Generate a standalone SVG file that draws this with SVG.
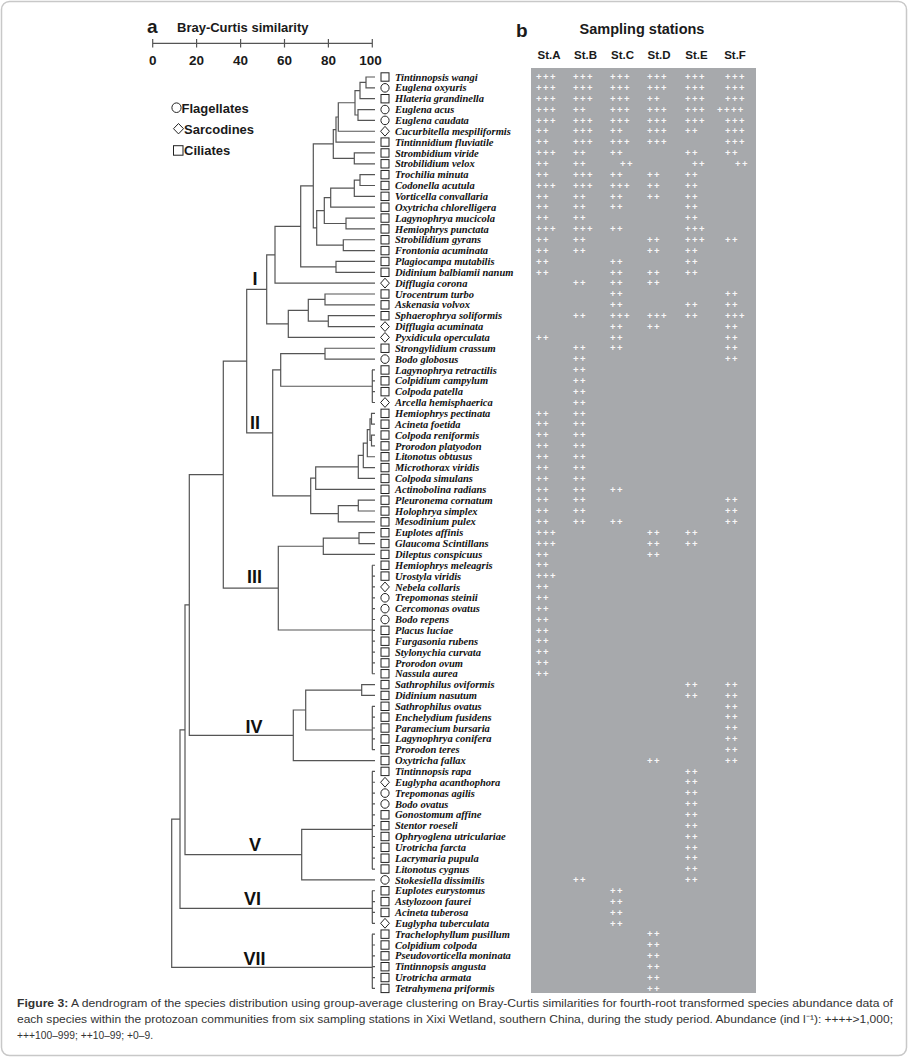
<svg xmlns="http://www.w3.org/2000/svg" xmlns:xlink="http://www.w3.org/1999/xlink" width="909" height="1058" viewBox="0 0 909 1058">
<style>
.hd{font-family:"Liberation Sans",Arial,sans-serif;font-weight:bold;fill:#1a1a1a}
.nm{font-family:"Liberation Serif","Times New Roman",serif;font-weight:bold;font-style:italic;font-size:10.5px;fill:#111}
.p{font-family:"Liberation Sans",Arial,sans-serif;font-weight:bold;font-size:9.5px;letter-spacing:1.4px;fill:#f7f7f7}
.sym{fill:none;stroke:#222;stroke-width:1}
.tr{fill:none;stroke:#555;stroke-width:1.2}
.rn{font-family:"Liberation Sans",Arial,sans-serif;font-weight:bold;font-size:18px;fill:#111;text-anchor:middle}
.cap{font-family:"Liberation Sans",Arial,sans-serif;font-size:11.5px;fill:#333}
</style>
<defs>
<rect id="sq" x="-4" y="-4.2" width="8" height="8.4" class="sym"/>
<ellipse id="ci" rx="4.1" ry="4.3" class="sym"/>
<path id="di" d="M0,-4.9 L4.4,0 L0,4.9 L-4.4,0 Z" class="sym"/>
</defs>
<rect x="1.5" y="1.5" width="905" height="1054" rx="8" fill="#fff" stroke="#c8c8c8" stroke-width="1.5"/>

<g id="axis">
<text class="hd" x="147" y="33" font-size="19">a</text>
<text class="hd" x="177" y="32" font-size="13">Bray-Curtis similarity</text>
<path class="tr" stroke="#333" d="M152.7,43.3 H372.3 M152.7,39 V47.5 M196.6,39 V47.5 M240.6,39 V47.5 M284.5,39 V47.5 M328.4,39 V47.5 M372.3,39 V47.5"/>
<g class="hd" font-size="13.5" text-anchor="middle">
<text x="152.7" y="65">0</text><text x="196.6" y="65">20</text><text x="240.6" y="65">40</text><text x="284.5" y="65">60</text><text x="328.4" y="65">80</text><text x="370.5" y="65">100</text>
</g>
</g>

<g id="legend">
<ellipse cx="176.5" cy="107.7" rx="4.6" ry="4.8" class="sym"/>
<text class="hd" x="181.5" y="112.5" font-size="13">Flagellates</text>
<path d="M178.5,123.5 L183.5,128.7 L178.5,133.9 L173.5,128.7 Z" class="sym"/>
<text class="hd" x="184" y="133.5" font-size="13">Sarcodines</text>
<rect x="173.5" y="145.7" width="9.5" height="9.5" class="sym"/>
<text class="hd" x="184" y="155" font-size="13">Ciliates</text>
</g>

<g id="header-b">
<text class="hd" x="516" y="37" font-size="19">b</text>
<text class="hd" x="642" y="34" font-size="14.5" text-anchor="middle">Sampling stations</text>
<g class="hd" font-size="11.5" text-anchor="middle">
<text x="549" y="59">St.A</text><text x="585.5" y="59">St.B</text><text x="622.5" y="59">St.C</text><text x="659" y="59">St.D</text><text x="696.5" y="59">St.E</text><text x="735" y="59">St.F</text>
</g>
</g>

<g id="connectors">
<path class="tr" d="
M375,77 H366 V87.85 H375
M366,82.43 H360 V98.7 H375
M375,109.55 H358 V120.4 H375
M360,90.56 H355 V114.98 H358
M355,102.77 H338.3 V131.25 H375
M338.3,117.01 H336 V142.1 H375
M375,152.95 H354.3 V163.8 H375
M336,129.56 H333.3 V158.38 H354.3
M375,174.65 H360 V185.5 H375
M360,180.08 H354.3 V196.35 H375
M354.3,188.21 H330.7 V207.2 H375
M375,218.05 H346 V228.9 H375
M330.7,197.71 H324.3 V223.48 H346
M375,239.75 H343.3 V250.6 H375
M324.3,210.6 H316.7 V245.18 H343.3
M333.3,143.97 H313.3 V227.89 H316.7
M375,261.45 H336 V272.3 H375
M313.3,185.93 H300.7 V266.88 H336
M300.7,226.4 H275 V283.15 H375
M375,294 H325 V304.85 H375
M375,315.7 H328.3 V326.55 H375
M325,299.43 H308.3 V321.13 H328.3
M308.3,310.28 H288.3 V337.4 H375
M275,254.78 H266.7 V323.84 H288.3
M375,348.25 H325 V359.1 H375
M372.3,369.95 V402.5
M325,353.68 H280.7 V386.23 H372.3
M375,413.35 H371.5 V424.2 H375
M375,435.05 H371.5 V445.9 H375
M371.5,418.78 H370 V440.48 H371.5
M370,429.63 H367.3 V456.75 H375
M367.3,443.19 H363.3 V467.6 H375
M363.3,455.4 H358.3 V478.45 H375
M358.3,466.92 H315.7 V489.3 H375
M375,500.15 H358.3 V511 H375
M358.3,505.58 H338.3 V521.85 H375
M315.7,478.11 H310.7 V513.71 H338.3
M280.7,369.96 H272.7 V495.91 H310.7
M266.7,289.31 H246.7 V432.93 H272.7
M375,532.7 H359 V543.55 H375
M359,538.13 H323.3 V554.4 H375
M372.3,565.25 V673.75
M323.3,546.26 H278.3 V630 H372.3
M246.7,361.12 H223.3 V588.13 H278.3
M375,684.6 H361.7 V695.45 H375
M372.3,706.3 V749.7
M361.7,690.03 H305.7 V730 H372.3
M305.7,710.02 H293.3 V760.55 H375
M223.3,474.62 H189.3 V735.29 H293.3
M372.3,771.4 V869.05
M372.3,829.3 H301.7 V879.9 H375
M189.3,604.96 H185 V854.6 H301.7
M372.3,890.75 V923.3
M185,729.78 H180 V908.3 H372.3
M372.3,934.15 V988.4
M180,819.04 H171.7 V967.3 H372.3
"/>
<path class="tr" d="M372,369.95h3 M372,380.8h3 M372,391.65h3 M372,402.5h3
M372,565.25h3 M372,576.1h3 M372,586.95h3 M372,597.8h3 M372,608.65h3 M372,619.5h3 M372,630.35h3 M372,641.2h3 M372,652.05h3 M372,662.9h3 M372,673.75h3
M372,706.3h3 M372,717.15h3 M372,728h3 M372,738.85h3 M372,749.7h3
M372,771.4h3 M372,782.25h3 M372,793.1h3 M372,803.95h3 M372,814.8h3 M372,825.65h3 M372,836.5h3 M372,847.35h3 M372,858.2h3 M372,869.05h3
M372,890.75h3 M372,901.6h3 M372,912.45h3 M372,923.3h3
M372,934.15h3 M372,945h3 M372,955.85h3 M372,966.7h3 M372,977.55h3 M372,988.4h3"/>
</g>

<g id="cluster-labels">
<text class="rn" x="255" y="285">I</text>
<text class="rn" x="255" y="429">II</text>
<text class="rn" x="254.5" y="583">III</text>
<text class="rn" x="254" y="733">IV</text>
<text class="rn" x="255" y="851">V</text>
<text class="rn" x="252.5" y="905">VI</text>
<text class="rn" x="254.5" y="965">VII</text>
</g>

<g id="species">
<g id="sp1"><use href="#sq" x="385" y="77"/><text class="nm" x="395" y="80.6">Tintinnopsis wangi</text></g>
<g id="sp2"><use href="#ci" x="385" y="87.85"/><text class="nm" x="395" y="91.45">Euglena oxyuris</text></g>
<g id="sp3"><use href="#sq" x="385" y="98.7"/><text class="nm" x="395" y="102.3">Hlateria grandinella</text></g>
<g id="sp4"><use href="#ci" x="385" y="109.55"/><text class="nm" x="395" y="113.15">Euglena acus</text></g>
<g id="sp5"><use href="#ci" x="385" y="120.4"/><text class="nm" x="395" y="124">Euglena caudata</text></g>
<g id="sp6"><use href="#di" x="385" y="131.25"/><text class="nm" x="395" y="134.85">Cucurbitella mespiliformis</text></g>
<g id="sp7"><use href="#sq" x="385" y="142.1"/><text class="nm" x="395" y="145.7">Tintinnidium fluviatile</text></g>
<g id="sp8"><use href="#sq" x="385" y="152.95"/><text class="nm" x="395" y="156.55">Strombidium viride</text></g>
<g id="sp9"><use href="#sq" x="385" y="163.8"/><text class="nm" x="395" y="167.4">Strobilidium velox</text></g>
<g id="sp10"><use href="#sq" x="385" y="174.65"/><text class="nm" x="395" y="178.25">Trochilia minuta</text></g>
<g id="sp11"><use href="#sq" x="385" y="185.5"/><text class="nm" x="395" y="189.1">Codonella acutula</text></g>
<g id="sp12"><use href="#sq" x="385" y="196.35"/><text class="nm" x="395" y="199.95">Vorticella convallaria</text></g>
<g id="sp13"><use href="#sq" x="385" y="207.2"/><text class="nm" x="395" y="210.8">Oxytricha chlorelligera</text></g>
<g id="sp14"><use href="#sq" x="385" y="218.05"/><text class="nm" x="395" y="221.65">Lagynophrya mucicola</text></g>
<g id="sp15"><use href="#sq" x="385" y="228.9"/><text class="nm" x="395" y="232.5">Hemiophrys punctata</text></g>
<g id="sp16"><use href="#sq" x="385" y="239.75"/><text class="nm" x="395" y="243.35">Strobilidium gyrans</text></g>
<g id="sp17"><use href="#sq" x="385" y="250.6"/><text class="nm" x="395" y="254.2">Frontonia acuminata</text></g>
<g id="sp18"><use href="#sq" x="385" y="261.45"/><text class="nm" x="395" y="265.05">Plagiocampa mutabilis</text></g>
<g id="sp19"><use href="#sq" x="385" y="272.3"/><text class="nm" x="395" y="275.9">Didinium balbiamii nanum</text></g>
<g id="sp20"><use href="#di" x="385" y="283.15"/><text class="nm" x="395" y="286.75">Difflugia corona</text></g>
<g id="sp21"><use href="#sq" x="385" y="294"/><text class="nm" x="395" y="297.6">Urocentrum turbo</text></g>
<g id="sp22"><use href="#sq" x="385" y="304.85"/><text class="nm" x="395" y="308.45">Askenasia volvox</text></g>
<g id="sp23"><use href="#sq" x="385" y="315.7"/><text class="nm" x="395" y="319.3">Sphaerophrya soliformis</text></g>
<g id="sp24"><use href="#di" x="385" y="326.55"/><text class="nm" x="395" y="330.15">Difflugia acuminata</text></g>
<g id="sp25"><use href="#di" x="385" y="337.4"/><text class="nm" x="395" y="341">Pyxidicula operculata</text></g>
<g id="sp26"><use href="#sq" x="385" y="348.25"/><text class="nm" x="395" y="351.85">Strongylidium crassum</text></g>
<g id="sp27"><use href="#ci" x="385" y="359.1"/><text class="nm" x="395" y="362.7">Bodo globosus</text></g>
<g id="sp28"><use href="#sq" x="385" y="369.95"/><text class="nm" x="395" y="373.55">Lagynophrya retractilis</text></g>
<g id="sp29"><use href="#sq" x="385" y="380.8"/><text class="nm" x="395" y="384.4">Colpidium campylum</text></g>
<g id="sp30"><use href="#sq" x="385" y="391.65"/><text class="nm" x="395" y="395.25">Colpoda patella</text></g>
<g id="sp31"><use href="#di" x="385" y="402.5"/><text class="nm" x="395" y="406.1">Arcella hemisphaerica</text></g>
<g id="sp32"><use href="#sq" x="385" y="413.35"/><text class="nm" x="395" y="416.95">Hemiophrys pectinata</text></g>
<g id="sp33"><use href="#sq" x="385" y="424.2"/><text class="nm" x="395" y="427.8">Acineta foetida</text></g>
<g id="sp34"><use href="#sq" x="385" y="435.05"/><text class="nm" x="395" y="438.65">Colpoda reniformis</text></g>
<g id="sp35"><use href="#sq" x="385" y="445.9"/><text class="nm" x="395" y="449.5">Prorodon platyodon</text></g>
<g id="sp36"><use href="#sq" x="385" y="456.75"/><text class="nm" x="395" y="460.35">Litonotus obtusus</text></g>
<g id="sp37"><use href="#sq" x="385" y="467.6"/><text class="nm" x="395" y="471.2">Microthorax viridis</text></g>
<g id="sp38"><use href="#sq" x="385" y="478.45"/><text class="nm" x="395" y="482.05">Colpoda simulans</text></g>
<g id="sp39"><use href="#sq" x="385" y="489.3"/><text class="nm" x="395" y="492.9">Actinobolina radians</text></g>
<g id="sp40"><use href="#sq" x="385" y="500.15"/><text class="nm" x="395" y="503.75">Pleuronema cornatum</text></g>
<g id="sp41"><use href="#sq" x="385" y="511"/><text class="nm" x="395" y="514.6">Holophrya simplex</text></g>
<g id="sp42"><use href="#sq" x="385" y="521.85"/><text class="nm" x="395" y="525.45">Mesodinium pulex</text></g>
<g id="sp43"><use href="#sq" x="385" y="532.7"/><text class="nm" x="395" y="536.3">Euplotes affinis</text></g>
<g id="sp44"><use href="#sq" x="385" y="543.55"/><text class="nm" x="395" y="547.15">Glaucoma Scintillans</text></g>
<g id="sp45"><use href="#sq" x="385" y="554.4"/><text class="nm" x="395" y="558">Dileptus conspicuus</text></g>
<g id="sp46"><use href="#sq" x="385" y="565.25"/><text class="nm" x="395" y="568.85">Hemiophrys meleagris</text></g>
<g id="sp47"><use href="#sq" x="385" y="576.1"/><text class="nm" x="395" y="579.7">Urostyla viridis</text></g>
<g id="sp48"><use href="#di" x="385" y="586.95"/><text class="nm" x="395" y="590.55">Nebela collaris</text></g>
<g id="sp49"><use href="#ci" x="385" y="597.8"/><text class="nm" x="395" y="601.4">Trepomonas steinii</text></g>
<g id="sp50"><use href="#ci" x="385" y="608.65"/><text class="nm" x="395" y="612.25">Cercomonas ovatus</text></g>
<g id="sp51"><use href="#ci" x="385" y="619.5"/><text class="nm" x="395" y="623.1">Bodo repens</text></g>
<g id="sp52"><use href="#sq" x="385" y="630.35"/><text class="nm" x="395" y="633.95">Placus luciae</text></g>
<g id="sp53"><use href="#sq" x="385" y="641.2"/><text class="nm" x="395" y="644.8">Furgasonia rubens</text></g>
<g id="sp54"><use href="#sq" x="385" y="652.05"/><text class="nm" x="395" y="655.65">Stylonychia curvata</text></g>
<g id="sp55"><use href="#sq" x="385" y="662.9"/><text class="nm" x="395" y="666.5">Prorodon ovum</text></g>
<g id="sp56"><use href="#sq" x="385" y="673.75"/><text class="nm" x="395" y="677.35">Nassula aurea</text></g>
<g id="sp57"><use href="#sq" x="385" y="684.6"/><text class="nm" x="395" y="688.2">Sathrophilus oviformis</text></g>
<g id="sp58"><use href="#sq" x="385" y="695.45"/><text class="nm" x="395" y="699.05">Didinium nasutum</text></g>
<g id="sp59"><use href="#sq" x="385" y="706.3"/><text class="nm" x="395" y="709.9">Sathrophilus ovatus</text></g>
<g id="sp60"><use href="#sq" x="385" y="717.15"/><text class="nm" x="395" y="720.75">Enchelydium fusidens</text></g>
<g id="sp61"><use href="#sq" x="385" y="728"/><text class="nm" x="395" y="731.6">Paramecium bursaria</text></g>
<g id="sp62"><use href="#sq" x="385" y="738.85"/><text class="nm" x="395" y="742.45">Lagynophrya conifera</text></g>
<g id="sp63"><use href="#sq" x="385" y="749.7"/><text class="nm" x="395" y="753.3">Prorodon teres</text></g>
<g id="sp64"><use href="#sq" x="385" y="760.55"/><text class="nm" x="395" y="764.15">Oxytricha fallax</text></g>
<g id="sp65"><use href="#sq" x="385" y="771.4"/><text class="nm" x="395" y="775">Tintinnopsis rapa</text></g>
<g id="sp66"><use href="#di" x="385" y="782.25"/><text class="nm" x="395" y="785.85">Euglypha acanthophora</text></g>
<g id="sp67"><use href="#ci" x="385" y="793.1"/><text class="nm" x="395" y="796.7">Trepomonas agilis</text></g>
<g id="sp68"><use href="#ci" x="385" y="803.95"/><text class="nm" x="395" y="807.55">Bodo ovatus</text></g>
<g id="sp69"><use href="#sq" x="385" y="814.8"/><text class="nm" x="395" y="818.4">Gonostomum affine</text></g>
<g id="sp70"><use href="#sq" x="385" y="825.65"/><text class="nm" x="395" y="829.25">Stentor roeseli</text></g>
<g id="sp71"><use href="#sq" x="385" y="836.5"/><text class="nm" x="395" y="840.1">Ophryoglena utriculariae</text></g>
<g id="sp72"><use href="#sq" x="385" y="847.35"/><text class="nm" x="395" y="850.95">Urotricha farcta</text></g>
<g id="sp73"><use href="#sq" x="385" y="858.2"/><text class="nm" x="395" y="861.8">Lacrymaria pupula</text></g>
<g id="sp74"><use href="#sq" x="385" y="869.05"/><text class="nm" x="395" y="872.65">Litonotus cygnus</text></g>
<g id="sp75"><use href="#ci" x="385" y="879.9"/><text class="nm" x="395" y="883.5">Stokesiella dissimilis</text></g>
<g id="sp76"><use href="#sq" x="385" y="890.75"/><text class="nm" x="395" y="894.35">Euplotes eurystomus</text></g>
<g id="sp77"><use href="#sq" x="385" y="901.6"/><text class="nm" x="395" y="905.2">Astylozoon faurei</text></g>
<g id="sp78"><use href="#sq" x="385" y="912.45"/><text class="nm" x="395" y="916.05">Acineta tuberosa</text></g>
<g id="sp79"><use href="#di" x="385" y="923.3"/><text class="nm" x="395" y="926.9">Euglypha tuberculata</text></g>
<g id="sp80"><use href="#sq" x="385" y="934.15"/><text class="nm" x="395" y="937.75">Trachelophyllum pusillum</text></g>
<g id="sp81"><use href="#sq" x="385" y="945"/><text class="nm" x="395" y="948.6">Colpidium colpoda</text></g>
<g id="sp82"><use href="#sq" x="385" y="955.85"/><text class="nm" x="395" y="959.45">Pseudovorticella moninata</text></g>
<g id="sp83"><use href="#sq" x="385" y="966.7"/><text class="nm" x="395" y="970.3">Tintinnopsis angusta</text></g>
<g id="sp84"><use href="#sq" x="385" y="977.55"/><text class="nm" x="395" y="981.15">Urotricha armata</text></g>
<g id="sp85"><use href="#sq" x="385" y="988.4"/><text class="nm" x="395" y="992">Tetrahymena priformis</text></g>
</g>

<g id="table">
<rect x="531" y="68" width="225" height="925" fill="#a7a9ac"/>
<g class="p">
<text x="536" y="80.2">+++</text><text x="573" y="80.2">+++</text><text x="610" y="80.2">+++</text><text x="647" y="80.2">+++</text><text x="685" y="80.2">+++</text><text x="725" y="80.2">+++</text>
<text x="536" y="91.05">+++</text><text x="573" y="91.05">+++</text><text x="610" y="91.05">+++</text><text x="647" y="91.05">+++</text><text x="685" y="91.05">+++</text><text x="725" y="91.05">+++</text>
<text x="536" y="101.9">+++</text><text x="573" y="101.9">+++</text><text x="610" y="101.9">+++</text><text x="647" y="101.9">++</text><text x="685" y="101.9">+++</text><text x="725" y="101.9">+++</text>
<text x="536" y="112.75">+++</text><text x="573" y="112.75">++</text><text x="610" y="112.75">+++</text><text x="647" y="112.75">+++</text><text x="685" y="112.75">+++</text><text x="717" y="112.75">++++</text>
<text x="536" y="123.6">+++</text><text x="573" y="123.6">+++</text><text x="610" y="123.6">+++</text><text x="647" y="123.6">+++</text><text x="685" y="123.6">+++</text><text x="725" y="123.6">+++</text>
<text x="536" y="134.45">++</text><text x="573" y="134.45">+++</text><text x="610" y="134.45">++</text><text x="647" y="134.45">+++</text><text x="685" y="134.45">++</text><text x="725" y="134.45">+++</text>
<text x="536" y="145.3">++</text><text x="573" y="145.3">+++</text><text x="610" y="145.3">+++</text><text x="647" y="145.3">+++</text><text x="725" y="145.3">+++</text>
<text x="536" y="156.15">+++</text><text x="573" y="156.15">++</text><text x="610" y="156.15">++</text><text x="685" y="156.15">++</text><text x="725" y="156.15">++</text>
<text x="536" y="167">++</text><text x="573" y="167">++</text><text x="620" y="167">++</text><text x="692" y="167">++</text><text x="735" y="167">++</text>
<text x="536" y="177.85">++</text><text x="573" y="177.85">+++</text><text x="610" y="177.85">++</text><text x="647" y="177.85">++</text><text x="685" y="177.85">++</text>
<text x="536" y="188.7">+++</text><text x="573" y="188.7">+++</text><text x="610" y="188.7">+++</text><text x="647" y="188.7">++</text><text x="685" y="188.7">++</text>
<text x="536" y="199.55">++</text><text x="573" y="199.55">++</text><text x="610" y="199.55">++</text><text x="647" y="199.55">++</text><text x="685" y="199.55">++</text>
<text x="536" y="210.4">++</text><text x="573" y="210.4">++</text><text x="610" y="210.4">++</text><text x="685" y="210.4">++</text>
<text x="536" y="221.25">++</text><text x="573" y="221.25">++</text><text x="685" y="221.25">++</text>
<text x="536" y="232.1">+++</text><text x="573" y="232.1">+++</text><text x="610" y="232.1">++</text><text x="685" y="232.1">+++</text>
<text x="536" y="242.95">++</text><text x="573" y="242.95">++</text><text x="647" y="242.95">++</text><text x="685" y="242.95">+++</text><text x="725" y="242.95">++</text>
<text x="536" y="253.8">++</text><text x="573" y="253.8">++</text><text x="647" y="253.8">++</text><text x="685" y="253.8">++</text>
<text x="536" y="264.65">++</text><text x="610" y="264.65">++</text><text x="685" y="264.65">++</text>
<text x="536" y="275.5">++</text><text x="610" y="275.5">++</text><text x="647" y="275.5">++</text><text x="685" y="275.5">++</text>
<text x="573" y="286.35">++</text><text x="610" y="286.35">++</text><text x="647" y="286.35">++</text>
<text x="610" y="297.2">++</text><text x="725" y="297.2">++</text>
<text x="610" y="308.05">++</text><text x="685" y="308.05">++</text><text x="725" y="308.05">++</text>
<text x="573" y="318.9">++</text><text x="610" y="318.9">+++</text><text x="647" y="318.9">+++</text><text x="685" y="318.9">++</text><text x="725" y="318.9">+++</text>
<text x="610" y="329.75">++</text><text x="647" y="329.75">++</text><text x="725" y="329.75">++</text>
<text x="536" y="340.6">++</text><text x="610" y="340.6">++</text><text x="725" y="340.6">++</text>
<text x="573" y="351.45">++</text><text x="610" y="351.45">++</text><text x="725" y="351.45">++</text>
<text x="573" y="362.3">++</text><text x="725" y="362.3">++</text>
<text x="573" y="373.15">++</text>
<text x="573" y="384">++</text>
<text x="573" y="394.85">++</text>
<text x="573" y="405.7">++</text>
<text x="536" y="416.55">++</text><text x="573" y="416.55">++</text>
<text x="536" y="427.4">++</text><text x="573" y="427.4">++</text>
<text x="536" y="438.25">++</text><text x="573" y="438.25">++</text>
<text x="536" y="449.1">++</text><text x="573" y="449.1">++</text>
<text x="536" y="459.95">++</text><text x="573" y="459.95">++</text>
<text x="536" y="470.8">++</text><text x="573" y="470.8">++</text>
<text x="536" y="481.65">++</text><text x="573" y="481.65">++</text>
<text x="536" y="492.5">++</text><text x="573" y="492.5">++</text><text x="610" y="492.5">++</text>
<text x="536" y="503.35">++</text><text x="573" y="503.35">++</text><text x="725" y="503.35">++</text>
<text x="536" y="514.2">++</text><text x="573" y="514.2">++</text><text x="725" y="514.2">++</text>
<text x="536" y="525.05">++</text><text x="573" y="525.05">++</text><text x="610" y="525.05">++</text><text x="725" y="525.05">++</text>
<text x="536" y="535.9">+++</text><text x="647" y="535.9">++</text><text x="685" y="535.9">++</text>
<text x="536" y="546.75">+++</text><text x="647" y="546.75">++</text><text x="685" y="546.75">++</text>
<text x="536" y="557.6">++</text><text x="647" y="557.6">++</text>
<text x="536" y="568.45">++</text>
<text x="536" y="579.3">+++</text>
<text x="536" y="590.15">++</text>
<text x="536" y="601">++</text>
<text x="536" y="611.85">++</text>
<text x="536" y="622.7">++</text>
<text x="536" y="633.55">++</text>
<text x="536" y="644.4">++</text>
<text x="536" y="655.25">++</text>
<text x="536" y="666.1">++</text>
<text x="536" y="676.95">++</text>
<text x="685" y="687.8">++</text><text x="725" y="687.8">++</text>
<text x="685" y="698.65">++</text><text x="725" y="698.65">++</text>
<text x="725" y="709.5">++</text>
<text x="725" y="720.35">++</text>
<text x="725" y="731.2">++</text>
<text x="725" y="742.05">++</text>
<text x="725" y="752.9">++</text>
<text x="647" y="763.75">++</text><text x="725" y="763.75">++</text>
<text x="685" y="774.6">++</text>
<text x="685" y="785.45">++</text>
<text x="685" y="796.3">++</text>
<text x="685" y="807.15">++</text>
<text x="685" y="818">++</text>
<text x="685" y="828.85">++</text>
<text x="685" y="839.7">++</text>
<text x="685" y="850.55">++</text>
<text x="685" y="861.4">++</text>
<text x="685" y="872.25">++</text>
<text x="573" y="883.1">++</text><text x="685" y="883.1">++</text>
<text x="610" y="893.95">++</text>
<text x="610" y="904.8">++</text>
<text x="610" y="915.65">++</text>
<text x="610" y="926.5">++</text>
<text x="647" y="937.35">++</text>
<text x="647" y="948.2">++</text>
<text x="647" y="959.05">++</text>
<text x="647" y="969.9">++</text>
<text x="647" y="980.75">++</text>
<text x="647" y="991.6">++</text>
</g>
</g>

<g id="caption">
<text class="cap" x="17" y="1007" textLength="876" lengthAdjust="spacingAndGlyphs"><tspan font-weight="bold">Figure 3:</tspan> A dendrogram of the species distribution using group-average clustering on Bray-Curtis similarities for fourth-root transformed species abundance data of</text>
<text class="cap" x="17" y="1023" textLength="876" lengthAdjust="spacingAndGlyphs">each species within the protozoan communities from six sampling stations in Xixi Wetland, southern China, during the study period. Abundance (ind l⁻¹): ++++&gt;1,000;</text>
<text class="cap" x="17" y="1039" textLength="136" lengthAdjust="spacingAndGlyphs">+++100–999; ++10–99; +0–9.</text>
</g>
</svg>
